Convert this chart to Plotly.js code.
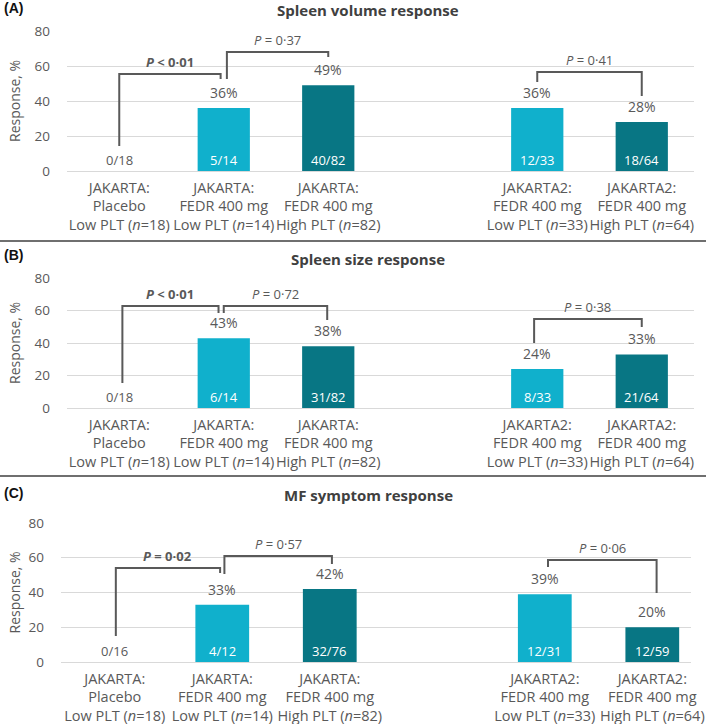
<!DOCTYPE html>
<html>
<head>
<meta charset="utf-8">
<script src="https://cdn.plot.ly/plotly-3.0.1.min.js"></script>
<style>
  body { margin: 0; background: #fff; }
  #chart { width: 709px; height: 724px; }
</style>
</head>
<body>
<div id="chart"></div>
<script>
// groups sit at 0,1,2 and 4,5 (slot 3 left empty between the two studies)
var xpos = [0, 1, 2, 4, 5];
var catLabels = [
  'JAKARTA:<br>Placebo<br>Low PLT (<i>n</i>=18)',
  'JAKARTA:<br>FEDR 400 mg<br>Low PLT (<i>n</i>=14)',
  'JAKARTA:<br>FEDR 400 mg<br>High PLT (<i>n</i>=82)',
  'JAKARTA2:<br>FEDR 400 mg<br>Low PLT (<i>n</i>=33)',
  'JAKARTA2:<br>FEDR 400 mg<br>High PLT (<i>n</i>=64)'
];

var volPct = [0, 36, 49, 36, 28];
var volFrac = ['0/18', '5/14', '40/82', '12/33', '18/64'];
var sizePct = [0, 43, 38, 24, 33];
var sizeFrac = ['0/18', '6/14', '31/82', '8/33', '21/64'];
var symPct = [0, 33, 42, 39, 20];
var symFrac = ['0/16', '4/12', '32/76', '12/31', '12/59'];

// brackets: [left x, right x, top, left leg end, right leg end, label, bold]
var volBrackets = [
  [0, 0.97, 55.4, 14.3, 52.6, 'P < 0·01', true],
  [1.03, 2.0, 68, 52.6, 65.1, 'P = 0·37', false],
  [4, 5, 56.6, 50.9, 42.9, 'P = 0·41', false]
];
var sizeBrackets = [
  [0.03, 0.95, 62.8, 15.4, 58.5, 'P < 0·01', true],
  [1.0, 1.99, 62.8, 58.5, 54.2, 'P = 0·72', false],
  [3.97, 5.0, 54.8, 40, 49.8, 'P = 0·38', false]
];
var symBrackets = [
  [0.01, 0.98, 54.1, 15, 51.2, 'P = 0·02', true],
  [1.02, 2.02, 61, 50.6, 56.4, 'P = 0·57', false],
  [4.03, 5.04, 58.7, 54.7, 39.7, 'P = 0·06', false]
];

var light = '#10b0cc';
var dark = '#087684';
var barColors = ['rgba(0,0,0,0)', light, dark, light, dark];
var grey = '#595959';
var FONT = '"Open Sans", Lato, sans-serif';

var panels = [
  {pct: volPct, frac: volFrac, br: volBrackets, title: 'Spleen volume response', tag: '(A)'},
  {pct: sizePct, frac: sizeFrac, br: sizeBrackets, title: 'Spleen size response', tag: '(B)'},
  {pct: symPct, frac: symFrac, br: symBrackets, title: 'MF symptom response', tag: '(C)'}
];

// pixel boxes of the three plot areas in the 709x724 page
var boxes = [
  {x0: 67, x1: 694, y0: 31, y1: 171, xr: [-0.5, 5.5]},
  {x0: 67, x1: 694, y0: 278, y1: 408, xr: [-0.5, 5.5]},
  {x0: 61, x1: 691, y0: 523, y1: 662, xr: [-0.5, 5.36]}
];
var W = 709, H = 724;

var data = [];
var annotations = [];
var shapes = [];
var layout = {
  width: W, height: H,
  margin: {l: 0, r: 0, t: 0, b: 0},
  paper_bgcolor: '#fff', plot_bgcolor: '#fff',
  showlegend: false,
  font: {family: FONT, color: grey, size: 13}
};

panels.forEach(function (p, i) {
  var n = i === 0 ? '' : String(i + 1);
  var xa = 'x' + n, ya = 'y' + n;
  var b = boxes[i];

  data.push({
    type: 'bar', x: xpos, y: p.pct, width: 0.5,
    marker: {color: barColors},
    xaxis: xa, yaxis: ya, hoverinfo: 'skip'
  });

  layout['xaxis' + n] = {
    domain: [b.x0 / W, b.x1 / W], range: b.xr, anchor: ya,
    tickvals: xpos, ticktext: catLabels, ticks: '', tickangle: 0,
    showgrid: false, zeroline: false, showline: false,
    ticklabelstandoff: 6,
    tickfont: {size: 14.5, color: grey, family: FONT}
  };
  layout['yaxis' + n] = {
    domain: [1 - b.y1 / H, 1 - b.y0 / H], range: [0, 80], anchor: xa,
    tickvals: [0, 20, 40, 60, 80], ticks: '',
    showgrid: true, gridcolor: '#d9d9d9', gridwidth: 1,
    zeroline: true, zerolinecolor: '#d9d9d9', zerolinewidth: 1,
    showline: false, ticklabelstandoff: 16,
    tickfont: {size: 13.5, color: grey, family: FONT}
  };

  // percentages above bars, fractions at the bar base
  xpos.forEach(function (x, k) {
    if (p.pct[k] > 0) {
      annotations.push({
        xref: xa, yref: ya, x: x, y: p.pct[k], text: p.pct[k] + '%',
        showarrow: false, yanchor: 'bottom', yshift: 4,
        font: {size: 14, color: grey, family: FONT}
      });
    }
    annotations.push({
      xref: xa, yref: ya, x: x, y: 0, text: p.frac[k],
      showarrow: false, yanchor: 'bottom', yshift: 0,
      font: {size: 13, color: p.pct[k] > 0 ? '#ffffff' : grey, family: FONT}
    });
  });

  p.br.forEach(function (q) {
    shapes.push({
      type: 'path', xref: xa, yref: ya,
      path: 'M' + q[0] + ',' + q[3] + ' L' + q[0] + ',' + q[2] +
            ' L' + q[1] + ',' + q[2] + ' L' + q[1] + ',' + q[4],
      line: {color: grey, width: 2}
    });
    var t = q[6] ? '<b><i>P</i>' + q[5].slice(1) + '</b>' : '<i>P</i>' + q[5].slice(1);
    annotations.push({
      xref: xa, yref: ya, x: (q[0] + q[1]) / 2, y: q[2], text: t,
      showarrow: false, yanchor: 'bottom', yshift: 1,
      font: {size: 13, color: grey, family: FONT}
    });
  });

  // panel title, tag and y title
  var titleY = [10, 259, 495][i];
  var tagY = [8, 255, 493][i];
  annotations.push({
    xref: 'paper', yref: 'paper', x: 368 / W, y: 1 - titleY / H, text: '<b>' + p.title + '</b>',
    showarrow: false, xanchor: 'center', yanchor: 'middle',
    font: {size: 15, color: '#404040', family: FONT}
  });
  annotations.push({
    xref: 'paper', yref: 'paper', x: 2 / W, y: 1 - tagY / H, text: '<b>' + p.tag + '</b>',
    showarrow: false, xanchor: 'left', yanchor: 'middle',
    font: {size: 14, color: '#111', family: 'Liberation Sans, Arial, sans-serif'}
  });
  annotations.push({
    xref: 'paper', yref: 'paper', x: 14 / W, y: 1 - ((b.y0 + b.y1) / 2) / H, text: 'Response, %',
    showarrow: false, textangle: -90, xanchor: 'center', yanchor: 'middle',
    font: {size: 14, color: grey, family: FONT}
  });
});

// separator rules between panels
[241, 476].forEach(function (py) {
  shapes.push({
    type: 'line', xref: 'paper', yref: 'paper',
    x0: 0, x1: 706 / W, y0: 1 - py / H, y1: 1 - py / H,
    line: {color: '#6f6f6f', width: 2}
  });
});

layout.annotations = annotations;
layout.shapes = shapes;

Plotly.newPlot('chart', data, layout, {displayModeBar: false, staticPlot: true});
</script>
</body>
</html>
